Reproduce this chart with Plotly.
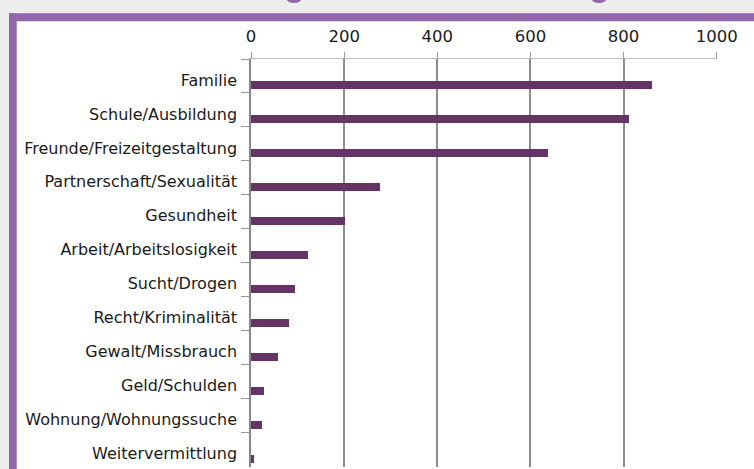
import plotly.graph_objects as go

categories = [
    "Familie",
    "Schule/Ausbildung",
    "Freunde/Freizeitgestaltung",
    "Partnerschaft/Sexualität",
    "Gesundheit",
    "Arbeit/Arbeitslosigkeit",
    "Sucht/Drogen",
    "Recht/Kriminalität",
    "Gewalt/Missbrauch",
    "Geld/Schulden",
    "Wohnung/Wohnungssuche",
    "Weitervermittlung",
]
values = [862, 811, 637, 276, 202, 122, 94, 81, 57, 27, 23, 6]
x_ticks = [0, 200, 400, 600, 800, 1000]

W, H = 754, 469
LABEL_FONT = "'DejaVu Sans', Verdana, sans-serif"
BAR = "#663366"
FRAME = "#9467aa"
GRID = "#8c8c8c"

fig = go.Figure(
    go.Bar(
        x=values,
        y=categories,
        orientation="h",
        marker=dict(color=BAR, line=dict(width=0)),
        width=0.235,
        offset=0.15,
        hoverinfo="x+y",
    )
)

def px_x(p):
    return p / W

def px_y(p):
    return 1 - p / H

shapes = [
    dict(type="rect", xref="paper", yref="paper", x0=0, x1=1, y0=0, y1=1,
         fillcolor="#eceeee", line=dict(width=0), layer="below"),
    dict(type="rect", xref="paper", yref="paper", x0=px_x(16.7), x1=1, y0=0, y1=px_y(21.3),
         fillcolor="white", line=dict(width=0), layer="below"),
    dict(type="rect", xref="paper", yref="paper", x0=px_x(9), x1=1, y0=px_y(21.3), y1=px_y(13.3),
         fillcolor=FRAME, line=dict(width=0), layer="below"),
    dict(type="rect", xref="paper", yref="paper", x0=px_x(9), x1=px_x(16.7), y0=0, y1=px_y(13.3),
         fillcolor=FRAME, line=dict(width=0), layer="below"),
    dict(type="circle", xref="paper", yref="paper", x0=px_x(286), x1=px_x(302), y0=px_y(3), y1=px_y(-8),
         fillcolor=FRAME, line=dict(width=0), layer="below"),
    dict(type="circle", xref="paper", yref="paper", x0=px_x(591), x1=px_x(607), y0=px_y(3), y1=px_y(-8),
         fillcolor=FRAME, line=dict(width=0), layer="below"),
]

fig.update_layout(
    width=W,
    height=H,
    autosize=False,
    margin=dict(l=0, r=0, t=0, b=0),
    paper_bgcolor="#eceeee",
    plot_bgcolor="white",
    showlegend=False,
    bargap=0,
    shapes=shapes,
    font=dict(family=LABEL_FONT, size=16, color="#1a1a1a"),
    xaxis=dict(
        domain=[251 / W, 716.7 / W],
        range=[0, 1000],
        side="top",
        tickvals=x_ticks,
        ticktext=[str(v) for v in x_ticks],
        showgrid=True,
        gridcolor=GRID,
        gridwidth=1.5,
        ticks="outside",
        ticklen=6,
        tickcolor="#999999",
        showline=True,
        linecolor="#bbbbbb",
        linewidth=1,
        zeroline=False,
        tickfont=dict(family=LABEL_FONT, size=16.5, color="#1a1a1a"),
        ticklabelstandoff=3,
        automargin=False,
        fixedrange=True,
    ),
    yaxis=dict(
        domain=[1 - 466.5 / H, 1 - 59 / H],
        autorange="reversed",
        type="category",
        tickson="boundaries",
        ticks="outside",
        ticklen=8,
        tickcolor="#999999",
        showline=True,
        linecolor="#888888",
        linewidth=1.5,
        showgrid=False,
        tickfont=dict(family=LABEL_FONT, size=16, color="#1a1a1a"),
        ticklabelstandoff=9,
        ticklabelshift=-4,
        automargin=False,
        fixedrange=True,
    ),
)

post = (
    "document.documentElement.style.overflow='hidden';"
    "document.body.style.overflow='hidden';"
    "document.body.style.margin='0';"
    "var gd=document.getElementById('{plot_id}');"
    "gd.style.width='754px';gd.style.height='469px';"
    "Plotly.relayout(gd,{width:754,height:469});"
)

fig.write_html("out.html", config={"responsive": False, "displayModeBar": False},
               post_script=post)
